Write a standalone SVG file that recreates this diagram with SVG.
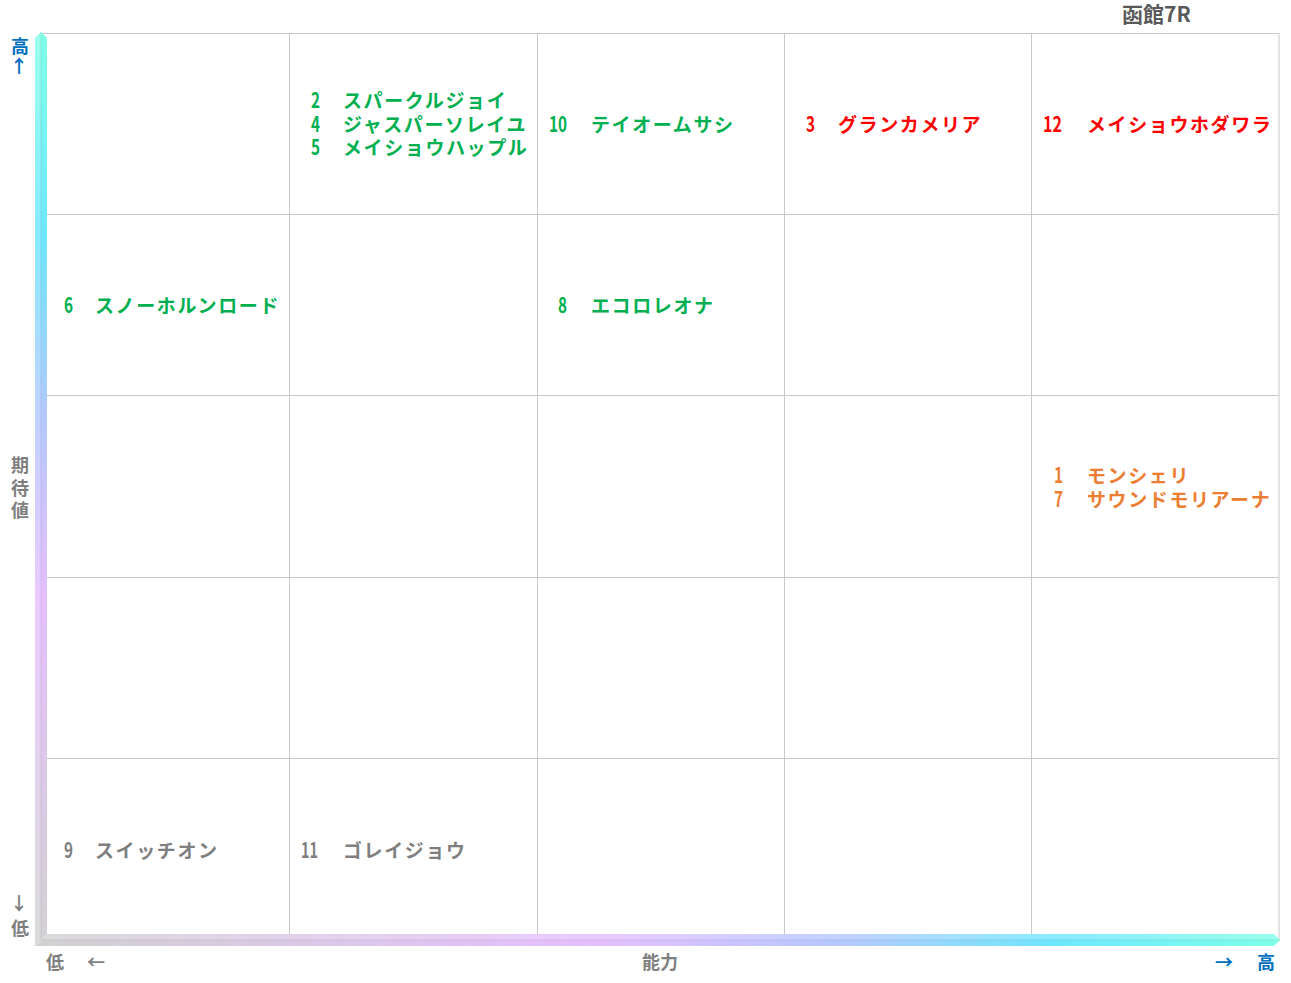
<svg xmlns="http://www.w3.org/2000/svg" width="1291" height="983" viewBox="0 0 1291 983">
<defs>
<style>
text{font-family:"Noto Sans CJK JP","Noto Sans",sans-serif;font-weight:bold}
.nm{font-size:19px;letter-spacing:1.6px}
.num{font-size:21px;letter-spacing:0}
.g{fill:#00B050}.r{fill:#FF0000}.o{fill:#ED7D31}.k{fill:#7F7F7F}.b{fill:#0070C0}
.ax{font-size:18px;text-anchor:middle}
.grid{stroke:#C8C8C8;stroke-width:1;fill:none}
</style>
<linearGradient id="vg" gradientUnits="userSpaceOnUse" x1="0" y1="32" x2="0" y2="946">
<stop offset="0" stop-color="#7FFFE8"/>
<stop offset="0.22" stop-color="#6EE8FF"/>
<stop offset="0.42" stop-color="#B4C8FF"/>
<stop offset="0.62" stop-color="#E6BFFF"/>
<stop offset="1" stop-color="#D2D2D2"/>
</linearGradient>
<linearGradient id="hg" gradientUnits="userSpaceOnUse" x1="35" y1="0" x2="1280" y2="0">
<stop offset="0" stop-color="#D2D2D2"/>
<stop offset="0.45" stop-color="#E6BFFF"/>
<stop offset="0.65" stop-color="#B4C8FF"/>
<stop offset="0.82" stop-color="#6EE8FF"/>
<stop offset="1" stop-color="#7FFFE8"/>
</linearGradient>
</defs>
<rect width="1291" height="983" fill="#FFFFFF"/>
<g id="grid" class="grid">
<rect x="42.5" y="33.5" width="1236.5" height="906.5"/>
<path d="M289.5 33.5V940M537.5 33.5V940M784.5 33.5V940M1031.5 33.5V940M42.5 214.5H1279M42.5 395.5H1279M42.5 577.5H1279M42.5 758.5H1279"/>
</g>
<g id="axes">
<polygon points="35,38 41,32 47,38 47,934 41,940 35,946" fill="url(#vg)"/>
<polygon points="35,946 41,940 47,934 1274,934 1280,940 1274,946" fill="url(#hg)"/>
<polygon points="35,38 41,32 41,940 35,946" fill="#FFFFFF" opacity="0.18"/>
<polygon points="41,940 47,934 1274,934 1280,940" fill="#FFFFFF" opacity="0.18"/>
<path d="M41 32V940H1280" stroke="#000000" stroke-opacity="0.08" stroke-width="1" fill="none"/>
</g>
<g id="title"><text x="1122" y="22" style="font-size:21px" fill="#595959">函館7R</text></g>
<g id="y-axis-labels">
<text class="ax b" x="20" y="53">高<tspan x="19" dy="20">↑</tspan></text>
<text class="ax k" x="20" y="472">期<tspan x="20" dy="22.5">待</tspan><tspan x="20" dy="22.5">値</tspan></text>
<text class="ax k" x="19" y="910">↓<tspan x="20" dy="25">低</tspan></text>
</g>
<g id="x-axis-labels">
<text class="ax k" x="55" y="969">低</text>
<text class="ax k" x="96" y="969">←</text>
<text class="ax k" x="660" y="969">能力</text>
<text class="ax b" x="1224" y="969">→</text>
<text class="ax b" x="1266" y="969">高</text>
</g>
<g id="node-2-4-5">
<text class="g" y="108"><tspan class="num" x="311" textLength="9" lengthAdjust="spacingAndGlyphs">2</tspan><tspan class="nm" x="343">スパークルジョイ</tspan><tspan class="num" x="311" y="132" textLength="9" lengthAdjust="spacingAndGlyphs">4</tspan><tspan class="nm" x="343" y="132">ジャスパーソレイユ</tspan><tspan class="num" x="311" y="155" textLength="9" lengthAdjust="spacingAndGlyphs">5</tspan><tspan class="nm" x="343" y="155">メイショウハップル</tspan></text>
</g>
<g id="node-10">
<text class="g" y="132"><tspan class="num" x="549" textLength="18" lengthAdjust="spacingAndGlyphs">10</tspan><tspan class="nm" x="591">テイオームサシ</tspan></text>
</g>
<g id="node-3">
<text class="r" y="132"><tspan class="num" x="806" textLength="9" lengthAdjust="spacingAndGlyphs">3</tspan><tspan class="nm" x="838">グランカメリア</tspan></text>
</g>
<g id="node-12">
<text class="r" y="132"><tspan class="num" x="1043" textLength="19" lengthAdjust="spacingAndGlyphs">12</tspan><tspan class="nm" x="1087">メイショウホダワラ</tspan></text>
</g>
<g id="node-6">
<text class="g" y="313"><tspan class="num" x="64" textLength="9" lengthAdjust="spacingAndGlyphs">6</tspan><tspan class="nm" x="95">スノーホルンロード</tspan></text>
</g>
<g id="node-8">
<text class="g" y="313"><tspan class="num" x="558" textLength="9" lengthAdjust="spacingAndGlyphs">8</tspan><tspan class="nm" x="591">エコロレオナ</tspan></text>
</g>
<g id="node-1-7">
<text class="o" y="483"><tspan class="num" x="1054" textLength="9" lengthAdjust="spacingAndGlyphs">1</tspan><tspan class="nm" x="1087">モンシェリ</tspan><tspan class="num" x="1054" y="507" textLength="9" lengthAdjust="spacingAndGlyphs">7</tspan><tspan class="nm" x="1087" y="507">サウンドモリアーナ</tspan></text>
</g>
<g id="node-9">
<text class="k" y="858"><tspan class="num" x="64" textLength="9" lengthAdjust="spacingAndGlyphs">9</tspan><tspan class="nm" x="95">スイッチオン</tspan></text>
</g>
<g id="node-11">
<text class="k" y="858"><tspan class="num" x="301" textLength="17" lengthAdjust="spacingAndGlyphs">11</tspan><tspan class="nm" x="343">ゴレイジョウ</tspan></text>
</g>
</svg>
